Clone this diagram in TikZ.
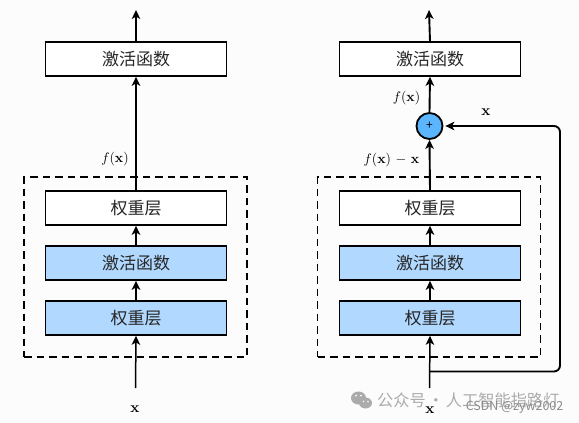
\documentclass[tikz,border=0pt]{standalone}
\usepackage[no-math]{fontspec}
\newfontfamily\cjk{Noto Sans CJK SC}
\usetikzlibrary{arrows.meta,positioning}
\definecolor{bluefill}{HTML}{B1D8FF}
\definecolor{plusfill}{HTML}{5CB5FF}
\definecolor{bgcol}{HTML}{FCFCFC}
\definecolor{wm}{HTML}{ABABAB}
\definecolor{wmtwo}{HTML}{8C8C8C}
\newcommand{\lbl}[1]{\raisebox{-0.9pt}{#1}}
\tikzset{
  x=1pt,y=-1pt,
  layer/.style={draw=black,line width=1.7pt,minimum width=181pt,minimum height=34pt,inner sep=0pt,font=\cjk\fontsize{17}{18}\selectfont,text=black!85},
  bluelayer/.style={layer,fill=bluefill},
  whitelayer/.style={layer,fill=white},
  conn/.style={line width=1.9pt,-{Stealth[length=9pt,width=8.5pt,inset=2.5pt]}},
  thinconn/.style={line width=1.5pt,-{Stealth[length=9pt,width=8.5pt,inset=2.5pt]}},
  dashbox/.style={draw=black,line width=1.4pt,dash pattern=on 7.5pt off 5pt},
  lab/.style={inner sep=0pt,scale=1.38},
  xlab/.style={inner sep=0pt,scale=1.5},
}
\begin{document}
\begin{tikzpicture}
\useasboundingbox[fill=bgcol] (0,0) rectangle (579,423);
% watermark
\fill[wm] (358.5,398) ellipse [x radius=7.5pt,y radius=6.5pt];
\fill[wm] (365.5,403) ellipse [x radius=6.5pt,y radius=5.5pt];
\fill[bgcol] (356,395.5) circle (1pt) (361,395.5) circle (1pt) (363.5,401.5) circle (0.9pt) (368,401.5) circle (0.9pt);
\node[font=\cjk\fontsize{16.2}{18}\selectfont,text=wm,anchor=west,inner sep=0pt] (wmA) at (377,400) {公众号\hspace{2pt}·\hspace{2pt}人工智能指路灯};
\node[font=\cjk\fontsize{12.5}{14}\selectfont,text=wmtwo,anchor=east,inner sep=0pt] (wmB) at (563.5,407) {CSDN @zyw2002};
% left
\node[dashbox,minimum width=223pt,minimum height=180pt,inner sep=0pt] (ldash) at (135.5,267) {};
\node[whitelayer] (lA) at (136,59) {\lbl{激活函数}};
\node[whitelayer] (lB) at (136,208) {\lbl{权重层}};
\node[bluelayer] (lC) at (136,263) {\lbl{激活函数}};
\node[bluelayer] (lD) at (136,318) {\lbl{权重层}};
\coordinate (lTop) at (136,10);
\coordinate (lIn) at (135.5,388);
\node[xlab] (lx) at (135,409.5) {$\mathbf{x}$};
\node[lab] (lf) at (115,159.5) {$f(\mathbf{x})$};
\draw[conn] (lA.north) -- (lTop);
\draw[conn] (lB.north) -- (lA.south);
\draw[conn] (lC.north) -- (lB.south);
\draw[conn] (lD.north) -- (lC.south);
\draw[thinconn] (lIn) -- (lD.south);
% right
\node[dashbox,minimum width=223pt,minimum height=180pt,inner sep=0pt] (rdash) at (429,267) {};
\node[whitelayer] (rA) at (430,59) {\lbl{激活函数}};
\node[whitelayer] (rB) at (430,208) {\lbl{权重层}};
\node[bluelayer] (rC) at (430,263) {\lbl{激活函数}};
\node[bluelayer] (rD) at (430,318) {\lbl{权重层}};
\node[circle,draw=black,line width=1.8pt,fill=plusfill,minimum size=26pt,inner sep=0pt,font=\cjk\fontsize{12}{12}\selectfont] (plus) at (429.5,126) {+};
\coordinate (rTop) at (429,10);
\coordinate (rIn) at (429.5,388);
\coordinate (rJoin) at (429.5,371.5);
\coordinate (rCorner) at (560,371.5);
\coordinate (rCornerTop) at (560,126);
\node[xlab] (rx) at (430,410) {$\mathbf{x}$};
\node[lab] (rf) at (406.5,98.5) {$f(\mathbf{x})$};
\node[lab] (rfx) at (391.5,160) {$f(\mathbf{x})\mskip2mu-\mskip2mu\mathbf{x}$};
\node[xlab] (rxl) at (486,112.5) {$\mathbf{x}$};
\draw[conn] (rA.north) -- (rTop);
\draw[conn] (plus.north) -- (rA.south);
\draw[conn] (rB.north) -- (plus.south);
\draw[conn] (rC.north) -- (rB.south);
\draw[conn] (rD.north) -- (rC.south);
\draw[thinconn] (rIn) -- (rD.south);
\draw[conn,rounded corners=6pt] (rJoin) -- (rCorner) -- (rCornerTop) -- ([xshift=2pt]plus.east);
\end{tikzpicture}
\end{document}
